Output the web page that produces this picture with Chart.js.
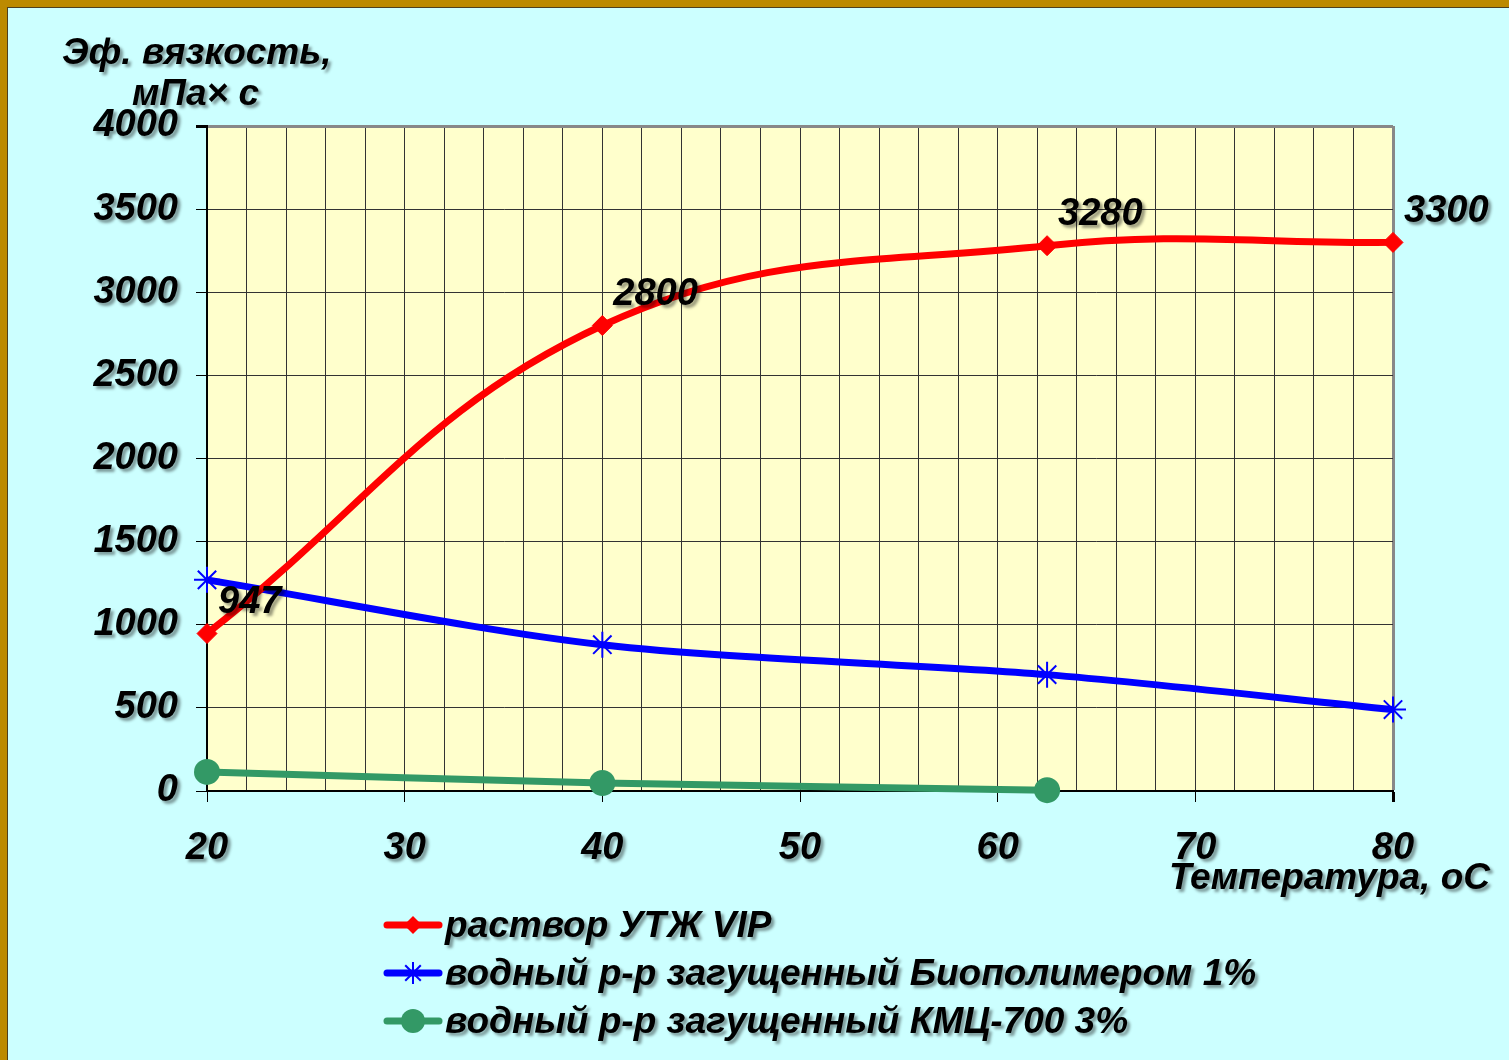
<!DOCTYPE html>
<html lang="ru">
<head>
<meta charset="utf-8">
<title>Эф. вязкость – температура</title>
<script src="https://cdn.jsdelivr.net/npm/chart.js@4.4.1/dist/chart.umd.min.js"></script>
<style>
  html, body { margin: 0; padding: 0; }
  body { width: 1509px; height: 1060px; position: relative; overflow: hidden;
         font-family: "Liberation Sans", Arial, sans-serif; }
  .frame { position: absolute; left: 0; top: 0; width: 1509px; height: 1060px; box-sizing: border-box;
           border-top: 7px solid #BC8A00; border-left: 7px solid #BC8A00; background: #BC8A00; }
  .frame__inner { width: 100%; height: 100%; box-sizing: border-box; background: #CCFFFF;
                  border-top: 1px solid #4d4020; border-left: 1px solid #4d4020; }
  #chart { position: absolute; left: 0; top: 0; }
  .txt { position: absolute; font: italic bold 37px "Liberation Sans", Arial, sans-serif; color: #000;
         line-height: 40px; white-space: nowrap; text-shadow: 3px 3px 3px rgba(0,0,0,0.4); }
  .legend { position: absolute; left: 383px; top: 901px; margin: 0; padding: 0; list-style: none; }
  .legend li { height: 48px; display: flex; align-items: center; }
  .legend span { font: italic bold 37px "Liberation Sans", Arial, sans-serif; line-height: 40px;
                 text-shadow: 3px 3px 3px rgba(0,0,0,0.4); white-space: nowrap; }
</style>
</head>
<body>
<div class="frame"><div class="frame__inner"></div></div>
<canvas id="chart" width="1509" height="1060"></canvas>
<div class="txt" style="left:62px; top:32px;">Эф. вязкость,</div>
<div class="txt" style="left:132px; top:73px;">мПа× с</div>
<div class="txt" style="right:19px; top:857px;">Температура, оС</div>
<ul class="legend" id="legend"></ul>

<script>
// temperature, °C (the third point sits between the 60 and 70 ticks)
const temps = [20, 40, 62.5, 80];

// effective viscosity, mPa·s
const utjVip = [947, 2800, 3280, 3300];
const biopolymer = [1270, 880, 700, 490];
const kmc700 = [115, 48, 5];

const SERIES_NAMES = [
  "раствор УТЖ VIP",
  "водный р-р загущенный Биополимером 1%",
  "водный р-р загущенный КМЦ-700 3%",
];

const COLORS = { red: "#FF0000", blue: "#0000FF", green: "#339966" };
const FONT = "Liberation Sans";

const toPoints = (vals) => vals.map((v, i) => ({ x: temps[i], y: v }));

// plot background + shadowed texts (value labels and tick labels, drawn after datasets)
const decor = {
  id: "decor",
  beforeDraw(chart) {
    const { ctx, chartArea: a } = chart;
    ctx.shadowColor = "transparent";
    ctx.shadowBlur = 0; ctx.shadowOffsetX = 0; ctx.shadowOffsetY = 0;
    ctx.save();
    ctx.fillStyle = "#FFFFCC";
    ctx.fillRect(a.left, a.top, a.right - a.left, a.bottom - a.top);
    ctx.restore();
  },
  afterDatasetsDraw(chart) {
    const ctx = chart.ctx;
    ctx.shadowColor = "rgba(0,0,0,0.4)";
    ctx.shadowBlur = 3; ctx.shadowOffsetX = 3; ctx.shadowOffsetY = 3;
    const meta = chart.getDatasetMeta(0);
    ctx.save();
    ctx.font = `italic bold 38px "${FONT}"`;
    ctx.fillStyle = "#000";
    ctx.textAlign = "left";
    ctx.textBaseline = "middle";
    meta.data.forEach((pt, i) => ctx.fillText(String(utjVip[i]), pt.x + 11, pt.y - 31));
    ctx.restore();
  },
  afterDraw(chart) {
    const ctx = chart.ctx;
    ctx.shadowColor = "transparent";
    ctx.shadowBlur = 0; ctx.shadowOffsetX = 0; ctx.shadowOffsetY = 0;
  },
};

const tickFont = { family: FONT, size: 38, style: "italic", weight: "bold" };

new Chart(document.getElementById("chart"), {
  type: "line",
  data: {
    datasets: [
      {
        label: SERIES_NAMES[0],
        data: toPoints(utjVip),
        borderColor: COLORS.red, backgroundColor: COLORS.red,
        borderWidth: 7, tension: 0.4,
        pointStyle: "rectRot", pointRadius: 10, pointBorderWidth: 1,
        clip: false,
      },
      {
        label: SERIES_NAMES[1],
        data: toPoints(biopolymer),
        borderColor: COLORS.blue, backgroundColor: COLORS.blue,
        borderWidth: 7, tension: 0.3,
        pointStyle: "star", pointRadius: 13, pointBorderWidth: 2,
        clip: false,
      },
      {
        label: SERIES_NAMES[2],
        data: toPoints(kmc700),
        borderColor: COLORS.green, backgroundColor: COLORS.green,
        borderWidth: 7, tension: 0.2,
        pointStyle: "circle", pointRadius: 13, pointBorderWidth: 0,
        clip: false,
      },
    ],
  },
  options: {
    responsive: false,
    animation: false,
    events: [],
    layout: { padding: { top: 126, right: 116, left: 0, bottom: 0 } },
    plugins: { legend: { display: false }, tooltip: { enabled: false } },
    scales: {
      x: {
        type: "linear", min: 20, max: 80,
        afterFit: (s) => { s.height = 269; },
        border: { color: "#000", width: 2 },
        grid: {
          color: (c) => (c.tick && c.tick.value === 80 ? "#888" : "#333"),
          lineWidth: (c) => (c.tick && c.tick.value === 80 ? 3 : 1),
          tickColor: (c) => (c.tick && c.tick.value % 10 === 0 ? "#000" : "transparent"),
          tickLength: 11,
        },
        ticks: {
          z: 1, stepSize: 2, autoSkip: false, maxRotation: 0, padding: 24,
          color: "#000", font: tickFont,
          callback: (v) => (v % 10 === 0 ? String(v) : ""),
        },
      },
      y: {
        min: 0, max: 4000,
        afterFit: (s) => { s.width = 207; },
        border: { color: "#000", width: 2 },
        grid: {
          color: (c) => (c.tick && c.tick.value === 4000 ? "#888" : "#333"),
          lineWidth: (c) => (c.tick && c.tick.value === 4000 ? 3 : 1),
          tickColor: "#000",
          tickLength: 11,
        },
        ticks: {
          z: 1, stepSize: 500, padding: 18, color: "#000", font: tickFont,
          callback: (v) => String(v),
        },
      },
    },
  },
  plugins: [decor],
});

// legend: line + marker icon, then the series name
function drawIcon(cv, color, marker) {
  const ctx = cv.getContext("2d");
  const cy = cv.height / 2, cx = 30;
  ctx.strokeStyle = color;
  ctx.lineWidth = 7;
  ctx.lineCap = "round";
  ctx.beginPath(); ctx.moveTo(4, cy); ctx.lineTo(56, cy); ctx.stroke();
  ctx.fillStyle = color;
  if (marker === "diamond") {
    ctx.beginPath();
    ctx.moveTo(cx, cy - 9); ctx.lineTo(cx + 9, cy); ctx.lineTo(cx, cy + 9); ctx.lineTo(cx - 9, cy);
    ctx.closePath(); ctx.fill();
  } else if (marker === "star") {
    ctx.lineWidth = 2; ctx.lineCap = "butt";
    for (let k = 0; k < 4; k++) {
      const a = k * Math.PI / 4;
      ctx.beginPath();
      ctx.moveTo(cx - 11 * Math.cos(a), cy - 11 * Math.sin(a));
      ctx.lineTo(cx + 11 * Math.cos(a), cy + 11 * Math.sin(a));
      ctx.stroke();
    }
  } else {
    ctx.beginPath(); ctx.arc(cx, cy, 12, 0, Math.PI * 2); ctx.fill();
  }
}

const legendEl = document.getElementById("legend");
const legendStyles = [[COLORS.red, "diamond"], [COLORS.blue, "star"], [COLORS.green, "circle"]];
SERIES_NAMES.forEach((name, i) => {
  const li = document.createElement("li");
  const cv = document.createElement("canvas");
  cv.width = 62; cv.height = 40;
  drawIcon(cv, legendStyles[i][0], legendStyles[i][1]);
  const sp = document.createElement("span");
  sp.textContent = name;
  li.appendChild(cv); li.appendChild(sp);
  legendEl.appendChild(li);
});
</script>
</body>
</html>
